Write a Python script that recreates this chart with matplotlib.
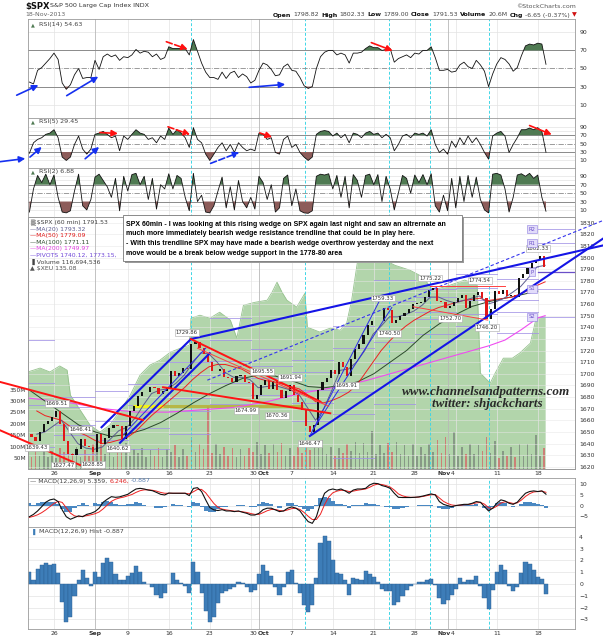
import numpy as np
import matplotlib
matplotlib.use("Agg")
import matplotlib.pyplot as plt
from matplotlib.patches import Rectangle

W, H = 603, 640
XMIN, XMAX = -1.17, 65.54

# ---------------- time axis (trading-day index, 0 = 22 Aug 2013) ----------------
monday_days = [2, 11, 16, 21, 26, 31, 36, 41, 46, 51, 56, 61]
monday_labels = ["26", "9", "16", "23", "30", "7", "14", "21", "28", "4", "11", "18"]
month_days = [7, 27, 50]
month_labels = ["Sep", "Oct", "Nov"]
event_days = [18.7, 32.6, 42.8, 47.9, 55.1]
days = list(range(-1, 62))

# ---------------- price panel (60 min, two bodies per day) ----------------
first_open = 1648
price_half = [1646, 1642, 1650, 1657, 1659, 1663, 1668, 1657, 1642, 1631,
              1630, 1635, 1644, 1638, 1637, 1633, 1648, 1640, 1645, 1653,
              1656, 1655, 1644, 1655, 1668, 1672, 1681, 1684, 1684, 1689,
              1688, 1683, 1685, 1688, 1702, 1698, 1701, 1705, 1704, 1726,
              1727, 1722, 1717, 1710, 1702, 1702, 1704, 1697, 1696, 1693,
              1698, 1699, 1693, 1692, 1678, 1682, 1690, 1695, 1687, 1694,
              1686, 1679, 1685, 1690, 1682, 1676, 1669, 1655, 1650, 1656,
              1686, 1693, 1696, 1703, 1700, 1710, 1706, 1698, 1713, 1721,
              1726, 1733, 1742, 1745, 1745, 1745, 1757, 1755, 1744, 1746,
              1750, 1752, 1756, 1760, 1761, 1762, 1766, 1772, 1774, 1763,
              1762, 1757, 1758, 1762, 1765, 1768, 1757, 1763, 1768, 1770,
              1765, 1747, 1756, 1771, 1769, 1772, 1767, 1768, 1766, 1782,
              1786, 1791, 1795, 1798, 1801, 1792]
volume_half = [55, 85, 60, 95, 55, 80, 50, 95, 75, 120,
               70, 100, 55, 85, 60, 110, 80, 120, 65, 95,
               55, 80, 85, 115, 60, 90, 70, 95, 55, 85,
               60, 95, 55, 90, 75, 105, 55, 90, 60, 140,
               75, 110, 90, 280, 70, 110, 65, 100, 60, 95,
               55, 90, 60, 95, 75, 120, 65, 105, 70, 110,
               75, 115, 60, 95, 60, 100, 70, 120, 85, 125,
               95, 130, 65, 100, 60, 95, 70, 110, 80, 120,
               70, 115, 75, 170, 65, 105, 70, 115, 75, 120,
               65, 105, 60, 110, 60, 100, 65, 110, 75, 130,
               70, 140, 65, 165, 60, 100, 65, 110, 65, 105,
               80, 140, 70, 125, 50, 80, 60, 100, 55, 110,
               60, 110, 65, 150, 60, 95]
ma20 = [1648, 1650, 1655, 1660, 1650, 1640, 1636, 1635, 1637, 1644,
        1651, 1654, 1662, 1673, 1683, 1686, 1687, 1692, 1699, 1709,
        1718, 1717, 1710, 1701, 1697, 1697, 1695, 1688, 1689, 1690,
        1688, 1686, 1682, 1671, 1660, 1670, 1686, 1703, 1704, 1710,
        1720, 1734, 1741, 1749, 1749, 1751, 1754, 1759, 1766, 1766,
        1763, 1761, 1763, 1765, 1767, 1760, 1762, 1765, 1770, 1775,
        1783, 1792, 1793.3]
ma50 = [1668, 1664, 1662, 1660, 1655, 1650, 1647, 1643, 1640, 1641,
        1643, 1645, 1650, 1657, 1664, 1670, 1676, 1682, 1688, 1695,
        1701, 1706, 1708, 1708, 1706, 1704, 1700, 1696, 1694, 1693,
        1691, 1689, 1687, 1682, 1676, 1675, 1677, 1680, 1684, 1690,
        1700, 1710, 1720, 1728, 1735, 1741, 1746, 1750, 1754, 1757,
        1759, 1761, 1763, 1764, 1765, 1763, 1764, 1765, 1766, 1769,
        1772, 1776, 1779.1]
ma100_days = list(range(-1, 62, 2))
ma100 = [1686, 1676, 1666, 1656, 1650, 1646, 1648, 1652, 1658, 1666,
         1675, 1683, 1690, 1696, 1699, 1698, 1694, 1689, 1688, 1690,
         1693, 1700, 1710, 1720, 1733, 1743, 1751, 1758, 1762, 1765,
         1768, 1771.1]
ma200_days = [-1, 4, 8, 12, 16, 20, 24, 28, 32, 36, 40, 44, 48, 52, 55, 57, 59, 61, 61.9]
ma200 = [1679, 1675, 1670, 1667, 1667, 1669, 1671, 1676, 1683, 1688,
         1694, 1702, 1710, 1718, 1724, 1729, 1738, 1748, 1750]
xeu_days = [-1.2, 0.3, 1.5, 2.7, 3.6, 4.0, 5.2, 6.4, 7.6, 8.8, 10.1, 11.3, 12.5,
            13.7, 14.9, 16.2, 17.4, 18.5, 18.7, 19.8, 21.0, 22.2, 23.5, 24.3,
            25.1, 26.5, 28.0, 28.6, 29.2, 29.8, 30.4, 31.6, 32.6, 32.9, 34.4,
            35.7, 36.9, 37.7, 38.3, 39.0, 40.2, 41.8, 43.6, 45.4, 47.0, 48.2,
            50.3, 52.1, 53.6, 54.0, 55.2, 55.8, 56.8, 57.9, 58.8, 60.1, 60.8, 61.9]
xeu = [133.24, 133.37, 133.24, 133.44, 133.30, 132.47, 131.97, 131.47, 131.24,
       131.47, 131.97, 132.47, 133.14, 133.47, 133.63, 133.90, 134.03, 134.13,
       135.03, 135.13, 135.03, 135.23, 134.97, 134.37, 135.46, 135.56, 135.63,
       135.90, 136.23, 135.90, 135.63, 135.40, 135.86, 134.73, 134.57, 134.70,
       134.63, 134.87, 135.63, 136.89, 137.19, 137.03, 136.79, 136.63, 136.40,
       135.96, 136.13, 136.30, 136.13, 133.20, 132.87, 133.20, 133.70, 133.70,
       133.87, 134.20, 135.03, 135.08]

# weekly pivots: [start, end, S2, S1, P, R1, R2]
pivot_weeks = [[-1.17, 2, 1617.7, 1636.8, 1673.2, 1692.2, 1728.7],
               [2, 7, 1631.0, 1647.3, 1655.6, 1671.3, 1680.2],
               [7, 11, 1601.0, 1617.1, 1643.3, 1659.2, 1685.3],
               [11, 16, 1615.6, 1635.4, 1653.2, 1673.0, 1690.8],
               [16, 21, 1648.0, 1668.0, 1679.0, 1699.0, 1710.0],
               [21, 26, 1674.0, 1692.0, 1710.9, 1728.8, 1747.8],
               [26, 31, 1672.5, 1682.1, 1696.7, 1706.3, 1720.9],
               [31, 36, 1659.6, 1675.0, 1685.8, 1701.3, 1712.0],
               [36, 41, 1627.4, 1665.4, 1684.4, 1722.3, 1741.3],
               [41, 46, 1674.1, 1709.3, 1727.3, 1762.5, 1780.5],
               [46, 51, 1734.1, 1747.0, 1753.4, 1766.3, 1772.7],
               [51, 56, 1740.7, 1751.2, 1763.2, 1773.7, 1785.7],
               [56, 61, 1735.5, 1753.1, 1763.8, 1781.4, 1792.1],
               [61, 65.54, 1748.9, 1773.2, 1787.5, 1812.5, 1824.4]]
pivot_names = ["S2", "S1", "P", "R1", "R2"]
pivot_tag_day = 60.3

label_days = [-0.07, 2.37, 5.2, 3.1, 6.75, 9.8, 18.2, 27.4, 30.8, 25.4, 29.2,
              33.2, 37.7, 42.9, 42.1, 47.9, 50.3, 53.9, 54.8, 61.0]
label_prices = [1636.8, 1674.7, 1652.3, 1621.5, 1622.0, 1636.1, 1735.8, 1702.3,
                1697.2, 1668.8, 1664.5, 1640.4, 1690.2, 1735.0, 1765.2, 1782.4,
                1747.9, 1780.6, 1740.2, 1808.1]
label_texts = ["1639.43", "1669.51", "1646.41", "1627.47", "1628.85", "1640.62",
               "1729.86", "1695.55", "1691.94", "1674.99", "1670.36", "1646.47",
               "1695.91", "1740.50", "1759.33", "1775.22", "1752.70", "1774.54",
               "1746.20", "1802.33"]

blue_thick = [((7.8, 1654.0), (18.7, 1729.86)),
              ((10.05, 1640.62), (21.0, 1717.7)),
              ((18.7, 1729.86), (69.0, 1810.5)),
              ((33.2, 1646.47), (69.0, 1816.5))]
blue_thin = [((10.5, 1648.0), (20.5, 1722.0)),
             ((33.2, 1646.47), (42.0, 1767.0)),
             ((33.6, 1652.0), (43.2, 1757.0))]
blue_dashed = [((20.7, 1694.5), (69.0, 1832.0))]
red_thick = [((-4.59, 1693.0), (12.86, 1660.2)),
             ((-4.59, 1651.4), (5.17, 1621.5)),
             ((15.3, 1688.4), (35.7, 1666.0)),
             ((18.7, 1729.86), (34.5, 1676.0))]
red_thin = [((19.5, 1722.0), (35.5, 1672.0)),
            ((47.9, 1775.2), (57.0, 1775.2)),
            ((45.8, 1757.7), (54.9, 1746.2))]
support_band = ((11.6, 32.4), 1672.5)
support_band_bright = (11.6, 15.3)

# ---------------- indicators (every half day from day -1) ----------------
rsi14 = [35, 33, 48, 51, 56, 61, 67, 60, 34, 27,
         32, 43, 50, 39, 40, 40, 59, 49, 63, 66,
         63, 65, 59, 63, 62, 65, 71, 67, 69, 68,
         63, 66, 60, 62, 74, 72, 72, 72, 72, 65,
         82, 69, 56, 46, 40, 40, 38, 46, 39, 45,
         47, 40, 44, 41, 34, 37, 48, 56, 54, 49,
         42, 43, 52, 55, 48, 47, 40, 31, 28, 30,
         50, 63, 68, 70, 70, 65, 67, 65, 56, 67,
         67, 68, 72, 75, 73, 73, 70, 71, 72, 57,
         61, 63, 65, 62, 67, 66, 70, 70, 74, 62,
         48, 48, 49, 46, 47, 54, 57, 52, 50, 59,
         54, 47, 30, 44, 55, 62, 60, 55, 47, 51,
         64, 75, 77, 76, 78, 77, 54.63]
rsi5 = [27, 52, 60, 64, 72, 75, 83, 64, 18, 10,
        18, 48, 68, 37, 25, 37, 72, 75, 79, 72,
        64, 68, 33, 68, 60, 72, 83, 75, 72, 60,
        64, 52, 68, 60, 87, 72, 83, 75, 64, 41,
        88, 60, 52, 25, 10, 25, 41, 52, 33, 48,
        29, 52, 41, 33, 37, 33, 75, 72, 60, 64,
        29, 25, 60, 68, 41, 48, 29, 18, 10, 18,
        72, 79, 81, 79, 68, 75, 64, 72, 52, 75,
        72, 64, 75, 79, 72, 75, 64, 72, 64, 33,
        48, 68, 72, 64, 75, 72, 75, 68, 83, 48,
        29, 37, 25, 56, 41, 64, 48, 68, 52, 64,
        48, 29, 13, 68, 75, 79, 68, 29, 48, 64,
        83, 83, 87, 83, 88, 79, 29.45]
rsi2 = [5, 60, 92, 75, 95, 70, 93, 40, 5, 3,
        8, 55, 95, 20, 10, 35, 88, 95, 80, 65,
        40, 85, 8, 90, 55, 94, 97, 70, 90, 35,
        85, 12, 70, 60, 96, 60, 92, 85, 40, 8,
        97, 30, 45, 5, 3, 20, 55, 88, 15, 65,
        10, 80, 30, 15, 40, 12, 90, 75, 35, 70,
        5, 15, 85, 93, 20, 60, 8, 3, 2, 8,
        90, 95, 93, 96, 60, 92, 40, 90, 15, 94,
        80, 40, 92, 95, 70, 94, 30, 90, 60, 10,
        50, 92, 85, 50, 93, 75, 94, 70, 96, 20,
        5, 45, 8, 85, 15, 90, 30, 92, 40, 88,
        35, 10, 3, 95, 97, 93, 60, 5, 40, 93,
        96, 90, 97, 85, 93, 40, 6.88]
macd = [-5.2, -4.1, -2.5, -0.5, 1.6, 2.7, 3.1, 1.9, -2.0, -5.2,
        -6.4, -5.6, -4.8, -5.2, -4.1, -3.6, -2.8, -1.2, 1.6, 3.0,
        4.2, 3.9, 4.1, 4.7, 5.3, 6.6, 7.8, 8.1, 7.8, 7.3,
        7.0, 6.2, 5.3, 5.0, 5.9, 5.8, 5.8, 5.8, 5.8, 4.7,
        8.1, 8.4, 6.6, 2.7, -0.9, -2.0, -2.3, -1.9, -2.5, -2.5,
        -2.8, -2.5, -3.1, -3.6, -4.4, -4.4, -3.6, -1.9, -1.2, -1.2,
        -2.0, -2.8, -2.5, -1.2, -0.6, -1.2, -2.5, -5.2, -7.5, -8.3,
        -5.2, 1.1, 5.8, 7.3, 7.8, 7.3, 7.8, 6.9, 5.8, 7.3,
        7.8, 7.8, 8.1, 9.7, 10.5, 10.3, 9.4, 8.9, 8.1, 5.8,
        3.9, 3.8, 3.8, 3.8, 3.9, 4.1, 4.5, 5.0, 5.5, 5.0,
        1.9, 0.6, 0.0, -0.5, 0.0, 0.3, 0.6, 0.6, 1.1, 1.9,
        1.6, -0.5, -2.5, -1.2, 1.1, 2.7, 2.2, 1.1, 0.6, 1.6,
        3.8, 5.8, 6.6, 6.9, 6.6, 6.9, 5.359]
signal = [-5.5, -5.0, -4.3, -3.3, -2.0, -0.5, 1.0, 2.0, 1.5, -1.0,
          -3.5, -4.8, -5.2, -5.0, -4.7, -4.3, -3.8, -3.0, -1.5, 0.3,
          2.0, 3.0, 3.6, 4.0, 4.6, 5.2, 6.2, 7.0, 7.4, 7.4,
          7.2, 6.8, 6.2, 5.8, 5.8, 5.8, 5.8, 5.8, 5.8, 5.5,
          6.5, 7.6, 7.6, 6.0, 3.5, 1.0, -0.8, -1.6, -2.0, -2.3,
          -2.6, -2.7, -2.9, -3.2, -3.7, -4.1, -4.1, -3.3, -2.4, -1.8,
          -1.8, -2.3, -2.5, -2.0, -1.4, -1.2, -1.8, -3.2, -5.0, -6.5,
          -6.5, -4.0, 0.5, 4.0, 6.0, 6.8, 7.2, 7.1, 6.6, 6.8,
          7.2, 7.5, 7.8, 8.6, 9.6, 10.1, 9.9, 9.4, 8.7, 7.3,
          5.5, 4.6, 4.1, 3.9, 3.9, 4.0, 4.3, 4.7, 5.1, 5.2,
          3.6, 2.0, 1.0, 0.3, 0.1, 0.2, 0.4, 0.5, 0.8, 1.3,
          1.5, 0.7, -1.0, -1.3, -0.3, 1.2, 1.8, 1.5, 1.0, 1.3,
          2.6, 4.3, 5.6, 6.4, 6.6, 6.8, 6.246]
hist = [1.0, 0.3, 1.3, 1.6, 1.8, 1.6, 1.7, 0.9, -1.5, -3.2,
        -2.8, -1.0, 0.3, 1.2, 0.5, -0.2, 1.0, 0.6, 1.8, 2.2,
        1.9, 0.8, 0.3, 0.3, 0.7, 0.9, 1.5, 1.0, 0.2, 0.0,
        -0.3, -0.9, -1.2, -0.8, 0.0, 0.9, 0.3, 0.1, -0.2, -0.8,
        1.9, 1.0, -0.8, -2.3, -3.2, -2.8, -1.6, -0.8, -0.6, -0.4,
        -0.3, 0.2, 0.1, -0.3, -0.7, -0.5, 0.8, 1.6, 1.1, 0.7,
        -0.3, -0.9, -0.3, 1.0, 1.2, 0.1, -0.8, -1.8, -2.4, -1.8,
        0.5, 3.5, 4.1, 3.6, 2.0, 0.9, 0.8, 0.3, -0.9, 0.5,
        0.4, 0.3, 1.1, 0.8, 0.6, 0.2, -0.4, -0.6, -0.6, -1.8,
        -1.5, -1.0, -0.5, -0.2, 0.0, 0.2, 0.2, 0.3, 0.4, -0.1,
        -1.2, -1.7, -1.4, -0.9, -0.4, 0.5, 0.2, 0.3, 0.3, 0.7,
        -0.2, -1.2, -2.1, -0.5, 1.0, 1.6, 1.2, -0.2, -0.6, -0.3,
        0.9, 1.9, 1.7, 1.2, 0.6, 0.4, -0.887]

rsi14_arrows = [((-2.55, 20.5), (0.1, 31.6), "#1530f0", "-"),
                ((3.55, 20.0), (7.4, 41.0), "#1530f0", "-"),
                ((25.8, 29.2), (30.2, 32.5), "#1530f0", "-"),
                ((15.7, 79.6), (18.3, 71.2), "#ff1010", "--"),
                ((40.7, 78.6), (43.3, 69.7), "#ff1010", "-")]
rsi5_arrows = [((-4.59, 7.0), (-1.5, 14.5), "#1530f0", "-"),
               ((-0.93, 18.0), (0.5, 42.0), "#1530f0", "-"),
               ((5.8, 14.0), (7.5, 42.0), "#1530f0", "-"),
               ((21.1, 3.0), (24.6, 29.2), "#1530f0", "--"),
               ((7.6, 76.4), (9.8, 74.0), "#ff1010", "-"),
               ((15.9, 90.0), (18.6, 71.5), "#ff1010", "--"),
               ((27.1, 75.4), (28.6, 65.4), "#ff1010", "-"),
               ((60.0, 93.0), (62.7, 71.5), "#ff1010", "-")]

note_lines = ["SPX 60min - I was looking at this rising wedge on SPX again last night and saw an altrernate an",
              "much more immediately bearish wedge resistance trendline that could be in play here.",
              "- With this trendline SPX may have made a bearish wedge overthrow yesterday and the next",
              "move would be a break below wedge support in the 1778-80 area"]

# ---------------- drawing ----------------
plt.rcParams["font.family"] = ["DejaVu Sans"]
fig = plt.figure(figsize=(W / 100, H / 100), dpi=100, facecolor="white")
renderer = fig.canvas.get_renderer()

GRID = "#e3e3e3"
MONTHGRID = "#b8b8b8"
SPINE = "#9a9a9a"
TICKC = "#333333"
CYAN = "#3fd6e6"
IND_X = -1.0 + 0.5 * np.arange(len(rsi14))


def px_axes(x0, y0, x1, y1, face="white"):
    ax = fig.add_axes([x0 / W, 1 - y1 / H, (x1 - x0) / W, (y1 - y0) / H])
    ax.set_facecolor(face)
    ax.set_xlim(XMIN, XMAX)
    for s in ax.spines.values():
        s.set_color(SPINE)
        s.set_linewidth(0.6)
    ax.set_xticks([])
    return ax


def vgrid(ax):
    for d in monday_days:
        ax.axvline(d, color=GRID, lw=0.5, zorder=0.5)
    for d in month_days:
        ax.axvline(d, color=MONTHGRID, lw=0.6, zorder=0.5)
    for d in event_days:
        ax.axvline(d, color=CYAN, lw=0.7, ls=(0, (3, 2)), zorder=0.6)


def right_ticks(ax, ticks):
    ax.yaxis.tick_right()
    ax.set_yticks(ticks)
    ax.tick_params(axis="y", length=0, labelsize=4.4, pad=3, colors=TICKC)


def xlabels(ax, y_off):
    # month names sit flush against a neighbouring Monday label ("30Oct", "Nov4")
    joined = {27: 26, 50: 51}
    used = set()
    for d, lab in zip(month_days, month_labels):
        if d in joined:
            nb = joined[d]
            nb_lab = monday_labels[monday_days.index(nb)]
            used.add(nb)
            xj = (d + nb) / 2.0 + (0.3 if nb < d else -0.1)
            first, second = (nb_lab, lab) if nb < d else (lab, nb_lab)
            fb = "bold" if first == lab else "normal"
            sb = "bold" if second == lab else "normal"
            ax.annotate(first, (xj, 0), xycoords=("data", "axes fraction"), xytext=(-0.2, y_off),
                        textcoords="offset points", ha="right", va="top", fontsize=4.4,
                        fontweight=fb, color=TICKC, annotation_clip=False)
            ax.annotate(second, (xj, 0), xycoords=("data", "axes fraction"), xytext=(0.2, y_off),
                        textcoords="offset points", ha="left", va="top", fontsize=4.4,
                        fontweight=sb, color=TICKC, annotation_clip=False)
        else:
            ax.annotate(lab, (d, 0), xycoords=("data", "axes fraction"), xytext=(0, y_off),
                        textcoords="offset points", ha="center", va="top", fontsize=4.4,
                        fontweight="bold", color=TICKC, annotation_clip=False)
    for d, lab in zip(monday_days, monday_labels):
        if d in used:
            continue
        ax.annotate(lab, (d, 0), xycoords=("data", "axes fraction"), xytext=(0, y_off),
                    textcoords="offset points", ha="center", va="top", fontsize=4.4,
                    color=TICKC, annotation_clip=False)


def rich_text(x_px, y_px, pieces, fontsize, ha="left", gap=1.2, zorder=5):
    objs, widths = [], []
    for s, wgt, col in pieces:
        t = fig.text(0, 0, s, fontsize=fontsize, fontweight=wgt, color=col, va="center", zorder=zorder)
        widths.append(t.get_window_extent(renderer=renderer).width)
        objs.append(t)
    total = sum(widths) + gap * (len(widths) - 1)
    x = x_px - total if ha == "right" else x_px
    for t, wd in zip(objs, widths):
        t.set_position((x / W, 1 - y_px / H))
        x += wd + gap


def arrows(ax, specs):
    for (x0, y0), (x1, y1), col, ls in specs:
        ax.annotate("", xy=(x1, y1), xytext=(x0, y0), xycoords="data",
                    arrowprops=dict(arrowstyle="-|>", color=col, lw=1.2, ls=ls,
                                    mutation_scale=9, shrinkA=0, shrinkB=0),
                    annotation_clip=False, zorder=6)


def rsi_panel(rect, vals, ylim, name, light_grid):
    ax = px_axes(*rect)
    ax.set_ylim(*ylim)
    vgrid(ax)
    y = np.array(vals, dtype=float)
    grid_levels = [10, 20, 40, 60, 80, 90] if light_grid else [10, 90]
    for g in grid_levels:
        ax.axhline(g, color=GRID, lw=0.5, zorder=0.4)
    ax.axhline(70, color="#8a8a8a", lw=0.7, zorder=1)
    ax.axhline(30, color="#8a8a8a", lw=0.7, zorder=1)
    ax.axhline(50, color="#8a8a8a", lw=0.6, ls="-.", zorder=1)
    ax.fill_between(IND_X, y, 70, where=y >= 70, interpolate=True, color="#4f7a52", lw=0, zorder=2)
    ax.fill_between(IND_X, y, 30, where=y <= 30, interpolate=True, color="#8d5c5a", lw=0, zorder=2)
    ax.plot(IND_X, y, color="#111", lw=0.6, zorder=3)
    right_ticks(ax, [10, 30, 50, 70, 90])
    ax.text(0.006, 0.97, "\u25b2", transform=ax.transAxes, fontsize=3.6, color="#4f7a52", va="top", ha="left")
    ax.text(0.02, 0.97, name, transform=ax.transAxes, fontsize=4.6, color="#444", va="top", ha="left")
    return ax


# ---------------- header ----------------
fig.text(25 / W, 1 - 6 / H, "$SPX", fontsize=6.0, fontweight="bold", va="center", color="#111")
fig.text(50 / W, 1 - 6 / H, "S&P 500 Large Cap Index INDX", fontsize=4.6, va="center", color="#333")
fig.text(25 / W, 1 - 14.5 / H, "18-Nov-2013", fontsize=4.5, va="center", color="#666")
fig.text(576 / W, 1 - 6 / H, "\u00a9StockCharts.com", fontsize=4.5, ha="right", va="center", color="#555")
rich_text(577, 15, [("Open", "bold", "#111"), ("1798.82", "normal", "#444"),
                    ("High", "bold", "#111"), ("1802.33", "normal", "#444"),
                    ("Low", "bold", "#111"), ("1789.00", "normal", "#444"),
                    ("Close", "bold", "#111"), ("1791.53", "normal", "#444"),
                    ("Volume", "bold", "#111"), ("20.6M", "normal", "#444"),
                    ("Chg", "bold", "#111"), ("-6.65 (-0.37%)", "normal", "#444"),
                    ("\u25bc", "normal", "#d01010")], 4.5, ha="right", gap=2.2)

# ---------------- RSI panels ----------------
ax14 = rsi_panel((28, 19, 575, 118), rsi14, (-4.7, 104.7), "RSI(14) 54.63", False)
arrows(ax14, rsi14_arrows)
ax5 = rsi_panel((28, 118, 575, 167.5), rsi5, (-6.8, 110.9), "RSI(5) 29.45", True)
arrows(ax5, rsi5_arrows)
ax2 = rsi_panel((28, 167.5, 575, 217), rsi2, (-6.8, 110.9), "RSI(2) 6.88", True)

# ---------------- main price panel ----------------
MR = (28, 217, 575, 469.3)
ax_xeu = px_axes(*MR)
ax_xeu.set_ylim(130.0, 138.4)
ax_xeu.set_yticks([])
ax_xeu.fill_between(xeu_days, xeu, 130.0, color="#b2d5ab", lw=0)
ax_xeu.plot(xeu_days, xeu, color="#96c28e", lw=0.6)

ax_vol = px_axes(*MR, face="none")
ax_vol.set_ylim(0, 1108)
half_x = np.repeat(days, 2) + np.tile([0.25, 0.75], len(days))
closes = np.array(price_half, dtype=float)
opens = np.concatenate([[first_open], closes[:-1]])
up = closes >= opens
vol_colors = np.where(up, "#7d8a7d", "#d26b6b")
ax_vol.bar(half_x, volume_half, width=0.2, color=vol_colors, alpha=0.8, lw=0)
ax_vol.set_yticks([50, 100, 150, 200, 250, 300, 350])
ax_vol.set_yticklabels(["50M", "100M", "150M", "200M", "250M", "300M", "350M"])
ax_vol.tick_params(axis="y", length=0, labelsize=4.2, pad=1.5, colors=TICKC)
for s in ax_vol.spines.values():
    s.set_visible(False)

ax = px_axes(*MR, face="none")
ax.set_ylim(1617.8, 1834.9)
for lvl in range(1620, 1840, 10):
    ax.axhline(lvl, color="#e6e6e6", lw=0.45, alpha=0.8, zorder=0.3)
vgrid(ax)
right_ticks(ax, list(range(1620, 1840, 10)))
xlabels(ax, -1.5)

# pivots
for wk in pivot_weeks:
    x0, x1 = wk[0], wk[1]
    for v in wk[2:]:
        ax.plot([x0, x1], [v, v], color="#a293e6", lw=0.7, alpha=0.8, zorder=1)
last = pivot_weeks[-1]
ax.plot([last[0], last[1]], [last[4], last[4]], color="#6a4fc8", lw=0.9, zorder=1.2)
for nm, v in zip(pivot_names, last[2:]):
    ax.text(pivot_tag_day, v, nm, fontsize=3.8, color="#6a4fc8", ha="center", va="center", zorder=7,
            bbox=dict(boxstyle="square,pad=0.25", fc="#e2dcfa", ec="#8e7ee0", lw=0.4))

# support band
(b0, b1), blev = support_band
ax.plot([b0, b1], [blev, blev], color="#b7b43a", lw=2.2, alpha=0.9, zorder=1.5, solid_capstyle="butt")
ax.plot(list(support_band_bright), [blev, blev], color="#f2f21a", lw=2.2, zorder=1.6, solid_capstyle="butt")

# moving averages
ax.plot(ma200_days, ma200, color="#f04cf0", lw=0.8, zorder=2)
ax.plot(ma100_days, ma100, color="#2c4a2c", lw=0.7, zorder=2)
ax.plot(np.array(days) + 0.9, ma50, color="#ee2222", lw=0.7, zorder=2)
ax.plot(np.array(days) + 0.9, ma20, color="#5c5c8e", lw=0.7, zorder=2)

# candles
body = closes - opens
body = np.where(np.abs(body) < 0.6, 0.6, body)
cand_colors = np.where(up, "#111111", "#e01818")
ax.bar(half_x, body, bottom=opens, width=0.26, color=cand_colors, lw=0, zorder=3)

# trend lines
for (x0, y0), (x1, y1) in blue_thick:
    ax.plot([x0, x1], [y0, y1], color="#1414e6", lw=1.5, zorder=4, clip_on=False)
for (x0, y0), (x1, y1) in blue_thin:
    ax.plot([x0, x1], [y0, y1], color="#2a2ae8", lw=0.7, zorder=4)
for (x0, y0), (x1, y1) in blue_dashed:
    ax.plot([x0, x1], [y0, y1], color="#3434ee", lw=0.8, ls=(0, (3, 2)), zorder=4, clip_on=False)
for (x0, y0), (x1, y1) in red_thick:
    ax.plot([x0, x1], [y0, y1], color="#ff1414", lw=1.4, zorder=4, clip_on=False)
for (x0, y0), (x1, y1) in red_thin:
    ax.plot([x0, x1], [y0, y1], color="#ff4040", lw=0.7, zorder=4)

# price labels
for d, p, t in zip(label_days, label_prices, label_texts):
    ax.text(d, p, t, fontsize=3.9, color="#333", ha="center", va="center", zorder=6,
            bbox=dict(boxstyle="square,pad=0.18", fc="white", ec="#a8a8a8", lw=0.4))

# note box geometry
bx0, by0, bx1, by1 = 123, 215, 462, 261

# main legend (the pivots entry runs under the note box, as in the original)
leg = [("\u2592 $SPX (60 min) 1791.53", "#444"),
       ("\u2014MA(20) 1793.32", "#5c5c8e"),
       ("\u2014MA(50) 1779.09", "#e01818"),
       ("\u2014MA(100) 1771.11", "#2c4a2c"),
       ("\u2014MA(200) 1749.97", "#e040e0"),
       ("\u2014PIVOTS 1740.12, 1773.15, 1785.63", "#7048d8"),
       ("\u2590 Volume 116,694,536", "#444"),
       ("\u25b2 $XEU 135.08", "#555")]
for i, (t, c) in enumerate(leg):
    txt = fig.text(30 / W, 1 - (222.5 + i * 6.6) / H, t, fontsize=4.4, color=c, va="center", zorder=5)
    while txt.get_window_extent(renderer=renderer).x1 > bx0 - 1 and len(t) > 5:
        t = t[:-1]
        txt.set_text(t)

fig.add_artist(Rectangle(((bx0 + 2) / W, 1 - (by1 + 2) / H), (bx1 - bx0) / W, (by1 - by0) / H,
                         transform=fig.transFigure, fc="#9a9a9a", ec="none", zorder=8))
fig.add_artist(Rectangle((bx0 / W, 1 - by1 / H), (bx1 - bx0) / W, (by1 - by0) / H,
                         transform=fig.transFigure, fc="white", ec="#777", lw=0.6, zorder=9))
note_family = ["Liberation Sans Narrow", "Liberation Sans", "DejaVu Sans"]
probe = fig.text(0, 0, note_lines[0], fontsize=6, fontweight="bold", family=note_family)
wpx = probe.get_window_extent(renderer=renderer).width
probe.remove()
note_fs = 6 * 327.0 / wpx
for i, line in enumerate(note_lines):
    fig.text(126 / W, 1 - (224 + i * 9.8) / H, line, fontsize=note_fs, fontweight="bold",
             family=note_family, color="#000", va="center", zorder=10)

# watermark
wm_family = ["Liberation Serif", "DejaVu Serif"]
probe = fig.text(0, 0, "www.channelsandpatterns.com", fontsize=10, fontstyle="italic",
                 fontweight="bold", family=wm_family)
wpx = probe.get_window_extent(renderer=renderer).width
probe.remove()
wm_fs = 10 * 168.0 / wpx
fig.text(486 / W, 1 - 392 / H, "www.channelsandpatterns.com", fontsize=wm_fs, fontstyle="italic",
         fontweight="bold", family=wm_family, color="#2a2a2a", ha="center", va="center", zorder=6)
fig.text(487 / W, 1 - 404 / H, "twitter: shjackcharts", fontsize=wm_fs, fontstyle="italic",
         fontweight="bold", family=wm_family, color="#2a2a2a", ha="center", va="center", zorder=6)

# ---------------- MACD panel ----------------
axm = px_axes(28, 478, 575, 527.3)
axm.set_ylim(-10.16, 12.95)
vgrid(axm)
for g in [-5, 0, 5, 10]:
    axm.axhline(g, color=GRID, lw=0.5, zorder=0.4)
axm.bar(IND_X, hist, width=0.5, color="#4a88c2", lw=0, zorder=1.5)
axm.plot(IND_X, signal, color="#ee2020", lw=0.7, zorder=3)
axm.plot(IND_X, macd, color="#111", lw=0.8, zorder=3.2)
right_ticks(axm, [-5, 0, 5, 10])
rich_text(30, 481, [("\u2014 MACD(12,26,9) 5.359,", "normal", "#444"),
                    ("6.246,", "normal", "#e02020"),
                    ("-0.887", "normal", "#5a7fb0")], 4.5, gap=2.0)

# ---------------- MACD histogram panel ----------------
axh = px_axes(28, 527.3, 575, 629)
axh.set_ylim(-3.82, 4.80)
vgrid(axh)
for g in range(-3, 5):
    axh.axhline(g, color=GRID, lw=0.5, zorder=0.4)
axh.bar(IND_X, hist, width=0.5, color="#3d7db8", edgecolor="#2a5f92", lw=0.3, zorder=2)
right_ticks(axh, list(range(-3, 5)))
axh.text(0.006, 0.985, "\u2590", transform=axh.transAxes, fontsize=4, color="#3d7db8", va="top")
axh.text(0.02, 0.985, "MACD(12,26,9) Hist -0.887", transform=axh.transAxes, fontsize=4.6,
         color="#444", va="top")
xlabels(axh, -1.5)

fig.savefig("out.png", dpi=100, facecolor="white")
